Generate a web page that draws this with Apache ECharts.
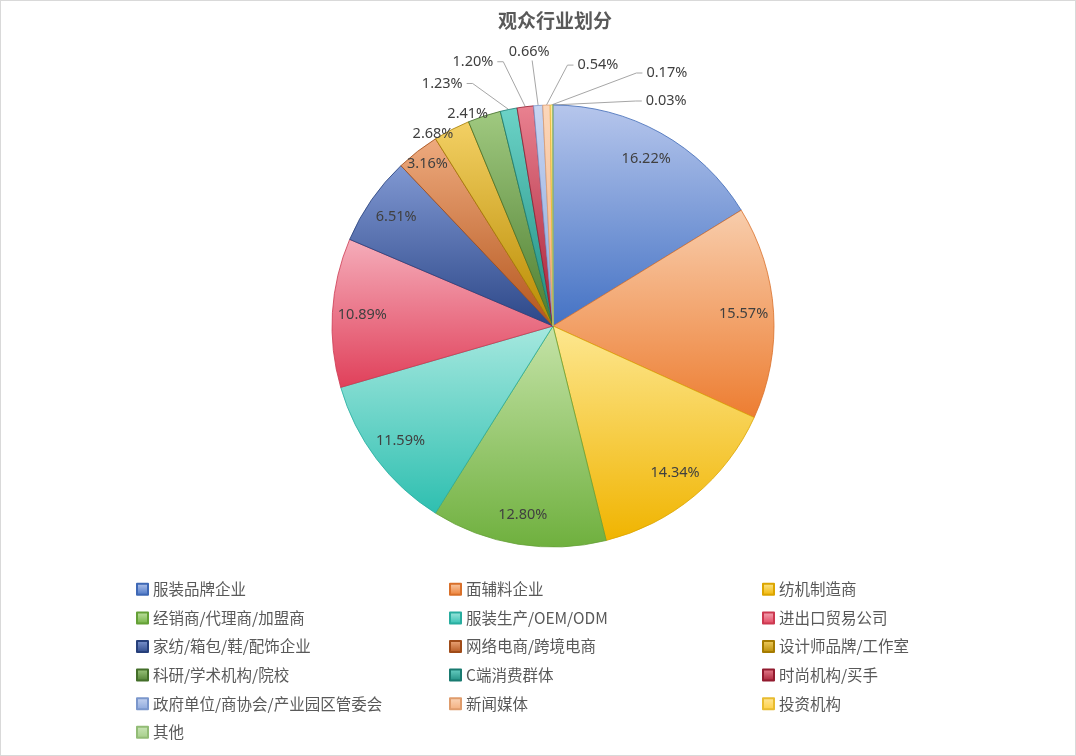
<!DOCTYPE html>
<html style="height: 100%">
<head>
    <meta charset="utf-8">
    <style>
        html, body {
            height: 100%;
            margin: 0;
            padding: 0;
            overflow: hidden;
            background: #fff;
        }
        #container {
            width: 1074px;
            height: 754px;
            border: 1px solid #d9d9d9;
        }
    </style>
</head>
<body>
    <div id="container"></div>

    <script src="https://cdn.jsdelivr.net/npm/echarts@6/dist/echarts.min.js"></script>
    <script>
        var titleText = '观众行业划分';
        var categories = [
            '服装品牌企业', '面辅料企业', '纺机制造商',
            '经销商/代理商/加盟商', '服装生产/OEM/ODM', '进出口贸易公司',
            '家纺/箱包/鞋/配饰企业', '网络电商/跨境电商', '设计师品牌/工作室',
            '科研/学术机构/院校', 'C端消费群体', '时尚机构/买手',
            '政府单位/商协会/产业园区管委会', '新闻媒体', '投资机构',
            '其他'
        ];
        var shares = [16.22, 15.57, 14.34, 12.80, 11.59, 10.89, 6.51, 3.16,
                      2.68, 2.41, 1.23, 1.20, 0.66, 0.54, 0.17, 0.03];

        // gradient top / bottom colour of each slice, and its edge colour
        var topColors = ['#b6c6ec', '#f8cdac', '#fde790', '#c5e3a8', '#a6e8df', '#f5adba',
                         '#8098d2', '#eeaa7e', '#f3d064', '#a0c980', '#6cd3c7', '#e98190',
                         '#c8d5f1', '#fbd7bb', '#ffe79c', '#cbe5b9'];
        var bottomColors = ['#4472c4', '#ed7d31', '#f0b400', '#6fb03e', '#2ebfb0', '#e0405a',
                            '#2c4788', '#b4561d', '#b88a00', '#4d7d2f', '#1d8b7f', '#a61f35',
                            '#8aa6dc', '#f2ad7c', '#ffcf40', '#a3cd86'];
        var edgeColors = ['#3e68b5', '#d9702a', '#dca500', '#64a036', '#28ad9f', '#cc3850',
                          '#263f7a', '#9f4b18', '#a57b00', '#436e29', '#197a70', '#921b2f',
                          '#7b97cc', '#df9c6c', '#e8bc30', '#92bc76'];

        // leader lines of the tiny slices: [dx, dy, side] from the slice edge
        var leaderOffsets = [[-42, -26, -1], [-28, -45, -1], [-6, -45, 0],
                             [27, -40, 1], [91, -32, 1], [89, -4, 1]];
        var firstLeader = 10;
        // best-fit nudge of the two labels that sit on the rim
        var rimShift = {8: [-15, 11], 9: [-14, 6]};

        var pieCenter = [552, 325];
        var pieRadius = 221;
        var labelFont = 'Noto Sans, Noto Sans CJK SC, sans-serif';

        var dom = document.getElementById('container');
        var myChart = echarts.init(dom);

        function sliceFill(i) {
            return new echarts.graphic.LinearGradient(0, 0, 0, 1, [
                {offset: 0, color: topColors[i]},
                {offset: 1, color: bottomColors[i]}
            ]);
        }

        var mainData = categories.map(function (name, i) {
            var small = i >= firstLeader;
            return {
                name: name,
                value: shares[i],
                itemStyle: {color: sliceFill(i), borderColor: edgeColors[i], borderWidth: 0.8},
                label: {show: small},
                labelLine: {show: small}
            };
        });

        // transparent rings that only carry the in-slice percentage labels
        function labelRing(showIdx) {
            return categories.map(function (name, i) {
                var lab = {show: showIdx(i)};
                if (rimShift[i]) {
                    lab.offset = rimShift[i];
                }
                return {name: name, value: shares[i], label: lab};
            });
        }

        function pctText(p) {
            return p.value.toFixed(2) + '%';
        }

        var ringBase = {
            type: 'pie',
            center: pieCenter,
            startAngle: 90,
            clockwise: true,
            silent: true,
            legendHoverLink: false,
            animation: false,
            itemStyle: {color: 'rgba(0,0,0,0)', borderWidth: 0},
            label: {
                position: 'inside',
                formatter: pctText,
                color: '#404040',
                fontSize: 14.5,
                fontFamily: labelFont
            },
            labelLine: {show: false},
            emphasis: {disabled: true}
        };

        var option = {
            backgroundColor: '#fff',
            title: {
                text: titleText,
                left: 549,
                top: 5,
                textAlign: 'center',
                textStyle: {
                    color: '#595959',
                    fontSize: 19,
                    fontWeight: 'bold',
                    fontFamily: 'Noto Sans CJK SC'
                }
            },
            legend: {
                left: 130,
                top: 572,
                width: 950,
                icon: 'rect',
                itemWidth: 11,
                itemHeight: 11,
                itemGap: 6,
                selectedMode: false,
                data: categories,
                textStyle: {
                    color: '#595959',
                    fontSize: 15.5,
                    fontFamily: 'Noto Sans CJK SC',
                    width: 290,
                    lineHeight: 22.6
                }
            },
            series: [
                {
                    type: 'pie',
                    name: titleText,
                    center: pieCenter,
                    radius: pieRadius,
                    startAngle: 90,
                    clockwise: true,
                    avoidLabelOverlap: false,
                    animation: false,
                    label: {
                        position: 'outside',
                        formatter: pctText,
                        color: '#404040',
                        fontSize: 14.5,
                        fontFamily: labelFont
                    },
                    labelLine: {
                        length: 20,
                        length2: 6,
                        lineStyle: {color: '#a6a6a6', width: 1}
                    },
                    labelLayout: function (params) {
                        var off = leaderOffsets[params.dataIndex - firstLeader];
                        if (!off || !params.labelLinePoints) {
                            return;
                        }
                        var p0 = params.labelLinePoints[0];
                        var end = [p0[0] + off[0], p0[1] + off[1]];
                        if (off[2] === 0) {
                            return {
                                x: end[0] - 3,
                                y: end[1] - 1,
                                align: 'center',
                                verticalAlign: 'bottom',
                                labelLinePoints: [p0, end, end]
                            };
                        }
                        var elbow = [end[0] - off[2] * 6, end[1]];
                        return {
                            x: end[0] + off[2] * 4,
                            y: end[1],
                            align: off[2] < 0 ? 'right' : 'left',
                            verticalAlign: 'middle',
                            labelLinePoints: [p0, elbow, end]
                        };
                    },
                    emphasis: {scale: false},
                    data: mainData
                },
                echarts.util.merge({
                    radius: [155, pieRadius],
                    data: labelRing(function (i) { return i < 7; })
                }, ringBase),
                echarts.util.merge({
                    radius: [190, 214],
                    data: labelRing(function (i) { return i === 7; })
                }, ringBase),
                echarts.util.merge({
                    radius: [216, 236],
                    data: labelRing(function (i) { return i === 8 || i === 9; })
                }, ringBase)
            ]
        };
        myChart.setOption(option);
    </script>
</body>
</html>
